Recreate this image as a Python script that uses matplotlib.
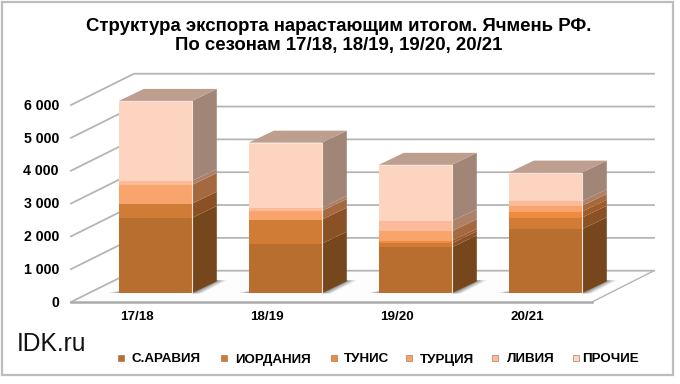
import matplotlib
matplotlib.use("Agg")
import matplotlib.pyplot as plt
from matplotlib.patches import Polygon, Rectangle
import numpy as np

plt.rcParams['font.family'] = ['Liberation Sans', 'DejaVu Sans']

seasons = ['17/18', '18/19', '19/20', '20/21']
saudi = [2295, 1513, 1400, 1950]
jordan = [435, 731, 122, 355]
tunisia = [0, 0, 80, 183]
turkey = [570, 264, 290, 173]
libya = [120, 100, 305, 142]
others = [2440, 1980, 1716, 873]
series_names = ['С.АРАВИЯ', 'ИОРДАНИЯ', 'ТУНИС', 'ТУРЦИЯ', 'ЛИВИЯ', 'ПРОЧИЕ']
series = [saudi, jordan, tunisia, turkey, libya, others]
front = ['#B76E2F', '#D07C37', '#EE8B3F', '#F8A46C', '#FBBB9A', '#FCD4C0']
side = ['#76471C', '#8A5224', '#9D5C28', '#A5693F', '#AD8068', '#A18577']
top_col = '#BD9E8F'
ticks = [0, 1000, 2000, 3000, 4000, 5000, 6000]
tick_labels = ['0', '1 000', '2 000', '3 000', '4 000', '5 000', '6 000']

W, H = 680, 384
PXX, PXY = 130.0, 32.83 / 1000
X0, Y0 = 155.3, 293.3
fig = plt.figure(figsize=(W / 100, H / 100), dpi=100)
ax = fig.add_axes([0, 0, 1, 1])
ax.set_xlim(-X0 / PXX, (W - X0) / PXX)
ax.set_ylim(-(H - Y0) / PXY, Y0 / PXY)
ax.axis('off')

def px(x):
    return (x - X0) / PXX
def py(y):
    return (Y0 - y) / PXY

# Frame
ax.add_patch(Rectangle((px(2.5), py(375)), 670.5 / PXX, 373 / PXY, fill=False,
                       ec='#BDBDBD', lw=1.6, zorder=1))

# Wall / floor geometry
grid = '#B5B5B5'
floor_front = py(302)
floor_back = py(270.7)
xl, xl2, xr, xr2 = px(71), px(134), px(592), px(654)
ax.add_patch(Polygon([(xl, floor_front), (xl2, floor_back), (xr2, floor_back), (xr, floor_front)],
                     fc='#FDFDFD', ec='none', zorder=1))
for t in ticks:
    ax.plot([xl, xl2, xr2], [floor_front + t, floor_back + t, floor_back + t], color=grid, lw=1.3, zorder=2)
ax.plot([xr, xr2], [floor_front, floor_back], color=grid, lw=1.0, zorder=2)
ax.plot([xl, xr], [floor_front, floor_front], color='#ABABAB', lw=1.8, zorder=2)

for t, lab in zip(ticks, tick_labels):
    ax.text(px(59), floor_front + t - 20, lab, ha='right', va='center', fontsize=10.2,
            fontweight='bold', color='black')

# Bars
bw = 73 / PXX
dx = 25 / PXX
dy = 12 / PXY
for i, name in enumerate(seasons):
    l, r = i - bw / 2, i + bw / 2
    # soft floor shadow: wedge to the right of the side face, sliver to the left of the front
    for e, a in zip([1.0, 0.8, 0.6, 0.4, 0.2], [0.10, 0.14, 0.18, 0.22, 0.28]):
        ax.add_patch(Polygon([(r, 0), (r + e * 10 / PXX, 0), (r + dx + e * 10 / PXX, dy + 1 / PXY),
                              (r + dx, dy + 1 / PXY)],
                             fc='#505050', ec='none', alpha=a, zorder=3))
        ax.add_patch(Polygon([(l - e * 11 / PXX, 0), (l + 1 / PXX, 0), (l + 1 / PXX, e * 3.5 / PXY)],
                             fc='#505050', ec='none', alpha=a, zorder=3))
    bottom = 0
    for j, vals in enumerate(series):
        v = vals[i]
        if v > 0:
            ax.add_patch(Polygon([(r, bottom), (r + dx, bottom + dy), (r + dx, bottom + v + dy), (r, bottom + v)],
                                 fc=side[j], ec='none', zorder=4))
            ax.add_patch(Rectangle((l, bottom), bw, v, fc=front[j], ec='none', zorder=5))
        bottom += v
    ax.add_patch(Polygon([(l, bottom), (l + dx, bottom + dy), (r + dx, bottom + dy), (r, bottom)],
                         fc=top_col, ec='none', zorder=5))
    ax.plot([l, r, r], [bottom, bottom, 0], color='#FBE3D6', lw=0.8, zorder=6)
    ax.text(i - 18 / PXX, py(316.5), name, ha='center', va='center', fontsize=9.6, fontweight='bold', color='black')

# Title
ax.text(px(339), py(26.5), 'Структура экспорта нарастающим итогом. Ячмень РФ.', ha='center', va='center',
        fontsize=13.4, fontweight='bold', color='black')
ax.text(px(339), py(45.5), 'По сезонам 17/18, 18/19, 19/20, 20/21', ha='center', va='center',
        fontsize=13.4, fontweight='bold', color='black')
ax.text(px(17), py(344), 'IDK.ru', ha='left', va='center', fontsize=17.7, color='#111111')

# Legend
mark_x = [121, 224.5, 333.5, 409, 495, 575.5]
text_x = [132, 235, 344, 420, 506.5, 582]
for n, mx, tx, c in zip(series_names, mark_x, text_x, front):
    ax.add_patch(Rectangle((px(mx - 3), py(360.5)), 6 / PXX, 6 / PXY, fc=c, ec='#8F6A4A', lw=0.4, zorder=6))
    ax.text(px(tx), py(362.5), n, ha='left', va='baseline', fontsize=9.6, fontweight='bold', color='black')

fig.savefig('out.png', dpi=100, facecolor='white')
